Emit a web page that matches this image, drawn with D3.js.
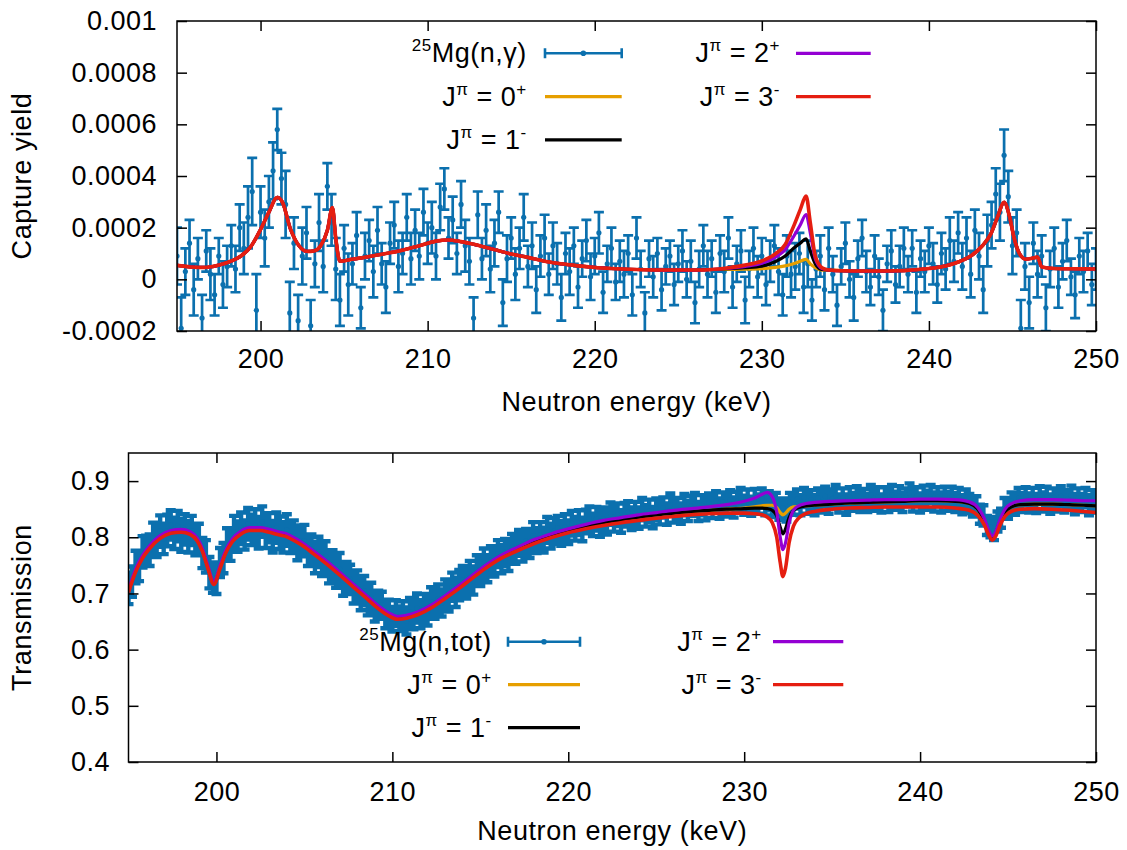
<!DOCTYPE html>
<html>
<head>
<meta charset="utf-8">
<title>25Mg capture yield and transmission</title>
<script src="https://d3js.org/d3.v7.min.js"></script>
<style>
    body { margin: 0; background: #ffffff; }
    text { font-family: 'Liberation Sans', Arial, Helvetica, sans-serif; fill: #000; white-space: pre; }
</style>
</head>
<body>
<svg id="chart" width="1127" height="850"></svg>
<script>
// ---------- shared ----------
const xTicks = [200, 210, 220, 230, 240, 250];
const jLabels = ["0+", "1-", "2+", "3-"];
const jColors = ["#e69f00", "#000000", "#9400d3", "#e51e10"];
const dataColor = "#0b70ae";

// ---------- capture yield (top), values in units of 1e-4 ----------
const capTicks = [-0.0002, 0, 0.0002, 0.0004, 0.0006, 0.0008, 0.001];
const capTickLabels = ["-0.0002", "0", "0.0002", "0.0004", "0.0006", "0.0008", "0.001"];
const capStart = 195, capStep = 0.25;
const capYield = [
    0.9,-1.9,0.3,1.4,-0.4,0.8,-1.5,1.1,0.2,-0.6,
    0.9,-0.2,0.5,1.3,0.4,2.0,1.2,2.4,3.4,-1.2,
    2.6,1.6,3.0,4.2,5.8,3.9,2.9,-1.3,1.4,-1.6,
    0.9,1.8,-1.8,0.6,2.2,0.5,3.6,2.3,0.4,-0.8,
    1.2,-0.2,0.6,1.7,-1.1,0.9,1.5,0.3,1.9,0.6,
    -0.3,1.4,2.1,0.5,1.0,2.4,0.8,1.9,0.9,2.6,
    1.4,2.0,0.9,2.8,3.5,1.6,2.3,1.0,2.9,1.3,
    0.7,-1.5,2.5,0.8,1.9,0.4,1.4,2.6,-0.9,0.8,
    1.6,0.2,1.2,2.4,0.5,1.3,-0.4,0.9,1.6,0.2,
    1.3,0.6,-0.7,1.0,0.3,1.3,-0.3,0.8,1.5,0.1,
    0.9,1.8,-0.5,0.6,1.2,-0.1,0.7,0.2,1.0,-0.6,
    1.6,0.4,-1.3,0.8,0.1,1.0,-0.4,0.5,0.9,-0.2,
    0.6,1.1,0.0,0.7,-0.9,0.4,1.3,0.2,0.8,-0.5,
    1.0,0.3,1.6,-0.3,0.6,1.1,-0.8,0.4,1.2,0.1,
    0.9,-0.2,0.7,1.3,0.3,-0.6,0.9,0.2,0.5,1.0,
    -0.3,0.6,-0.8,0.4,0.9,-0.4,1.2,0.2,-1.0,0.5,
    1.4,0.0,-0.7,0.8,1.6,0.3,-0.3,0.9,0.1,-1.2,
    0.6,1.1,-0.2,0.5,1.2,0.2,1.2,-0.5,0.8,0.3,
    1.3,0.6,-0.2,1.0,0.4,1.5,0.7,1.8,0.5,1.6,
    0.2,1.9,0.9,-0.4,1.5,2.1,3.3,2.6,4.8,3.2,
    1.3,1.8,-1.9,0.5,-0.9,1.4,0.2,0.9,-1.1,0.4,
    1.2,-0.3,0.7,1.5,0.1,-0.6,0.9,0.3,1.1,-0.2,0.4
];
const capErr = [
    1.1,1.2,0.9,0.9,1.0,0.8,0.9,0.8,1.0,0.8,
    0.7,0.9,0.8,0.8,0.9,0.9,1.0,1.2,1.3,1.4,
    1.0,1.1,1.0,1.1,0.8,1.0,1.3,1.2,1.0,1.0,
    1.1,1.0,1.0,0.9,1.1,1.0,0.9,1.0,1.2,1.0,
    0.9,1.2,0.8,0.9,0.8,0.9,0.8,1.0,0.9,0.8,
    1.0,0.8,0.9,1.0,0.8,0.9,1.0,0.8,0.9,0.9,
    0.8,1.0,0.9,0.9,0.8,0.8,0.9,0.8,0.9,1.0,
    0.9,0.8,0.9,0.8,1.0,0.9,0.9,0.8,0.9,0.9,
    0.8,1.0,0.8,0.9,0.8,0.9,0.9,0.8,0.9,0.8,
    0.9,0.8,0.9,0.8,0.9,0.7,0.8,0.7,0.8,0.9,
    0.7,0.8,0.8,0.7,0.8,0.7,0.8,0.9,0.7,0.8,
    0.8,0.7,0.8,0.7,0.8,0.6,0.8,0.7,0.6,0.8,
    0.7,0.8,0.7,0.8,0.8,0.7,0.8,0.9,0.7,0.8,
    0.7,0.8,0.8,0.8,0.7,0.8,0.9,0.7,0.8,0.8,
    0.7,0.8,0.8,0.8,0.9,0.8,0.8,0.9,0.9,0.8,
    1.0,0.9,0.8,0.7,0.8,0.8,0.8,0.7,0.8,0.7,
    0.8,0.7,0.9,0.7,0.7,0.8,0.7,0.8,0.7,0.8,
    0.7,0.8,0.7,0.8,0.8,0.7,0.7,0.8,0.7,0.8,
    0.7,0.8,0.7,0.8,0.8,0.9,0.8,0.8,0.9,0.8,
    0.9,0.8,0.9,0.9,1.0,0.9,1.0,1.1,1.0,1.0,
    1.1,0.9,1.1,0.9,1.0,0.8,0.9,0.8,0.9,0.7,
    0.8,0.8,0.7,0.8,0.7,0.9,0.7,0.8,0.7,0.8,0.8
];
const capFitE = [195,195.8,196.7,197.5,198.3,198.8,199.4,200.0,200.5,201.0,
    201.3,201.8,202.3,202.8,203.2,203.6,204.0,204.3,204.5,204.75,
    205.5,206.5,207.5,208.5,209.5,210.5,211.2,212,213,214,
    215,216,217,218,219,220,221,222,223,224,
    225,226,227,228,229,230,230.8,231.4,231.9,232.3,
    232.65,232.9,233.2,233.6,234,235,236,237,238,239,
    240,241,241.8,242.5,243.2,243.7,244.1,244.5,244.8,245.1,
    245.4,245.8,246.2,246.5,246.75,247.5,248.5,250];
const capFit0p = [0.54,0.48,0.46,0.55,0.72,0.89,1.25,1.93,2.6,3.17,
    3.0,1.93,1.3,1.08,1.1,1.3,1.9,2.78,1.6,0.70,
    0.78,0.88,1.0,1.13,1.3,1.48,1.52,1.46,1.32,1.15,
    0.98,0.85,0.70,0.6,0.52,0.46,0.42,0.39,0.37,0.36,
    0.36,0.36,0.38,0.38,0.39,0.41,0.46,0.52,0.6,0.7,
    0.77,0.6,0.45,0.36,0.36,0.33,0.32,0.32,0.33,0.36,
    0.42,0.52,0.68,0.9,1.3,1.75,2.4,2.98,2.5,1.6,
    1.02,0.78,0.82,0.86,0.48,0.42,0.41,0.40];
const capFit1m = [0.54,0.48,0.46,0.55,0.72,0.89,1.25,1.93,2.6,3.17,
    3.0,1.93,1.3,1.08,1.1,1.3,1.9,2.78,1.6,0.70,
    0.78,0.88,1.0,1.13,1.3,1.48,1.52,1.46,1.32,1.15,
    0.98,0.85,0.70,0.6,0.52,0.46,0.42,0.39,0.37,0.36,
    0.36,0.36,0.38,0.41,0.45,0.51,0.68,0.9,1.2,1.4,
    1.57,1.1,0.6,0.38,0.36,0.33,0.32,0.32,0.33,0.36,
    0.42,0.52,0.68,0.9,1.3,1.75,2.4,2.98,2.5,1.6,
    1.02,0.78,0.82,0.86,0.48,0.42,0.41,0.40];
const capFit2p = [0.54,0.48,0.46,0.55,0.72,0.89,1.25,1.93,2.6,3.17,
    3.0,1.93,1.3,1.08,1.1,1.3,1.9,2.78,1.6,0.70,
    0.78,0.88,1.0,1.13,1.3,1.48,1.52,1.46,1.32,1.15,
    0.98,0.85,0.70,0.6,0.52,0.46,0.42,0.39,0.37,0.36,
    0.36,0.36,0.38,0.43,0.5,0.62,0.85,1.15,1.65,2.1,
    2.51,1.8,0.8,0.42,0.36,0.33,0.32,0.32,0.33,0.36,
    0.42,0.52,0.68,0.9,1.3,1.75,2.4,2.98,2.5,1.6,
    1.02,0.78,0.82,0.86,0.48,0.42,0.41,0.40];
const capFit3m = [0.54,0.48,0.46,0.55,0.72,0.89,1.25,1.93,2.6,3.17,
    3.0,1.93,1.3,1.08,1.1,1.3,1.9,2.78,1.6,0.70,
    0.78,0.88,1.0,1.13,1.3,1.48,1.52,1.46,1.32,1.15,
    0.98,0.85,0.70,0.6,0.52,0.46,0.42,0.39,0.37,0.36,
    0.36,0.36,0.38,0.45,0.55,0.71,0.98,1.35,2.05,2.7,
    3.22,2.2,0.9,0.45,0.36,0.33,0.32,0.32,0.33,0.36,
    0.42,0.52,0.68,0.9,1.3,1.75,2.4,2.98,2.5,1.6,
    1.02,0.78,0.82,0.86,0.48,0.42,0.41,0.40];

// ---------- transmission (bottom), values in units of 1e-3 ----------
const transTicks = [0.4, 0.5, 0.6, 0.7, 0.8, 0.9];
const transTickLabels = ["0.4", "0.5", "0.6", "0.7", "0.8", "0.9"];
const transStart = 195, transStep = 0.2;
const transData = [
    709,721,747,749,774,777,777,799,794,811,
    797,812,822,807,820,803,814,801,812,795,
    796,772,766,737,728,727,755,763,788,785,
    809,801,816,804,824,813,821,808,828,809,
    817,801,817,808,800,813,798,803,787,794,
    794,776,779,764,774,760,766,746,751,737,
    744,723,728,725,709,713,697,705,689,692,
    674,680,680,662,666,654,665,655,663,651,
    667,660,674,663,675,668,685,679,691,683,
    699,695,712,702,715,724,717,731,723,742,
    738,754,744,759,756,771,761,773,765,782,
    777,790,781,793,786,803,794,804,795,813,
    802,811,817,807,818,809,825,815,826,814,
    828,833,822,833,823,833,826,842,831,840,
    828,840,845,833,842,834,850,838,847,835,
    850,843,853,841,858,844,851,842,858,847,
    856,860,846,857,849,861,852,865,851,863,
    855,867,853,864,870,857,867,855,868,859,
    870,857,865,854,862,849,852,846,862,858,
    868,857,871,860,867,857,870,862,873,860,
    868,875,860,870,858,872,863,874,863,869,
    861,876,865,872,860,872,863,876,865,874,
    862,871,879,864,873,861,874,866,877,863,
    872,862,874,864,872,862,872,858,867,860,
    854,855,841,839,821,818,812,828,834,852,
    850,864,857,870,862,873,861,870,860,875,
    863,872,859,871,863,873,861,868,875,859,
    870,861,871,857,867,861
];
const transErr = [
    28,27,29,27,28,26,28,27,29,28,
    27,28,26,28,27,29,27,28,26,27,
    28,27,29,28,27,28,26,27,28,27,
    29,27,28,26,28,27,29,28,27,28,
    26,28,27,29,27,28,26,27,28,27,
    28,27,26,28,27,29,27,28,26,27,
    28,27,28,26,27,28,27,26,28,27,
    24,25,23,24,23,22,23,22,23,24,
    25,24,26,25,24,25,26,24,25,24,
    26,27,25,26,27,25,26,27,25,26,
    25,26,24,25,26,24,25,24,25,24,
    24,23,24,22,23,24,22,23,22,23,
    22,23,21,22,23,21,22,21,22,21,
    21,22,20,21,22,20,21,20,21,20,
    20,21,19,20,21,19,20,19,20,19,
    19,20,18,19,20,18,19,18,19,18,
    18,19,17,18,19,17,18,17,18,17,
    18,17,18,17,18,17,18,17,18,17,
    17,18,17,18,17,18,17,18,17,18,
    17,18,17,18,17,18,17,18,17,18,
    17,18,16,17,18,17,16,17,18,17,
    16,17,18,17,16,17,18,17,16,17,
    17,16,17,18,16,17,18,17,16,17,
    17,18,16,17,18,17,16,17,18,17,
    17,18,17,18,17,18,17,18,17,18,
    17,16,17,18,17,16,17,18,17,16,
    17,18,17,16,17,18,17,16,17,18,
    17,16,17,18,17,17
];
const transFitE = [195,195.4,195.8,196.2,196.8,197.4,198.0,198.5,198.9,199.2,
    199.5,199.85,200.2,200.5,200.9,201.4,201.9,202.5,203.0,203.6,
    203.9,204.3,204.8,205.5,206.2,207.0,207.8,208.5,209.2,209.8,
    210.3,210.8,211.5,212.3,213.0,213.8,214.5,215.3,216.2,217.1,
    218,219,220,221,222,223,224,225,226,227,
    228,229,230,230.6,231.0,231.3,231.6,231.85,232.05,232.2,
    232.35,232.55,232.8,233.1,233.5,234,235,236,237,238,
    239,240,241,242,242.8,243.3,243.65,243.9,244.1,244.3,
    244.55,244.85,245.2,245.7,246.5,247.5,248.5,249.3,250];
const transFit0p = [704,740,765,782,800,809,811,807,796,777,
    748,718,746,772,794,808,814,814,811,806,
    804,798,789,773,756,735,713,694,675,662,
    656,658,665,678,693,711,728,747,765,779,
    792,803,812,819,826,831,836,840,843,846,
    848,850,852,854,856,857,857,853,844,840,
    843,850,854,855,856,857,859,861,862,863,
    864,865,865,864,860,849,830,810,800,808,
    829,846,854,858,859,859,858,857,856];
const transFit1m = [704,740,765,782,800,809,811,807,796,777,
    748,718,746,772,794,808,814,814,811,806,
    804,798,789,773,756,735,713,694,675,662,
    656,658,665,678,693,711,728,747,765,779,
    792,803,812,819,826,831,836,840,843,846,
    848,850,851,852,852,851,848,838,818,806,
    815,835,848,853,856,857,859,861,862,863,
    864,865,865,864,860,849,830,810,800,808,
    829,846,854,858,859,859,858,857,856];
const transFit2p = [707,743,768,785,803,812,814,810,799,780,
    751,721,749,775,797,811,817,817,814,809,
    807,801,792,776,759,738,716,697,678,665,
    659,661,668,681,696,714,731,750,768,782,
    795,806,815,823,830,835,840,844,848,851,
    854,858,864,870,876,880,872,845,800,778,
    790,825,848,856,860,862,864,865,866,867,
    867,868,868,867,863,852,833,812,802,810,
    832,851,860,865,867,867,866,865,865];
const transFit3m = [702,738,763,780,798,807,809,805,794,775,
    746,716,744,770,792,806,812,812,809,804,
    802,796,787,771,754,733,711,692,673,660,
    654,656,663,676,691,709,726,745,763,776,
    788,799,808,815,821,826,830,834,837,840,
    842,843,843,842,840,836,826,800,755,730,
    745,790,820,834,842,846,850,852,853,854,
    854,854,854,852,848,838,822,804,795,802,
    822,838,846,850,851,850,848,846,844];

// ---------- drawing ----------
const svg = d3.select("#chart");
const FONT = 27;

function richText(sel, parts) {
    let shift = 0;
    parts.forEach(function(p) {
        const target = p.sup ? -11 : 0;
        const t = sel.append("tspan").text(p.t).attr("dy", target - shift);
        if (p.sup) t.attr("font-size", 17);
        shift = target;
    });
}

function jParts(j) {
    return [{t: "J"}, {t: "π", sup: true}, {t: " = " + j[0]}, {t: j[1], sup: true}];
}

function drawPanel(p) {
    const x = d3.scaleLinear().domain([195, 250]).range([p.left, p.right]);
    const y = d3.scaleLinear().domain(p.yDomain).range([p.bottom, p.top]);
    const g = svg.append("g");

    g.append("clipPath").attr("id", p.id + "-clip")
        .append("rect")
        .attr("x", p.left).attr("y", p.top)
        .attr("width", p.right - p.left).attr("height", p.bottom - p.top);
    const plot = g.append("g").attr("clip-path", "url(#" + p.id + "-clip)");

    // data with error bars
    const pts = p.values.map((v, i) => ({e: p.start + i * p.step, v: v * p.scale, err: p.errs[i] * p.scale}));
    const c = p.cap;
    plot.append("path")
        .attr("fill", "none")
        .attr("stroke", dataColor)
        .attr("stroke-width", p.barWidth)
        .attr("d", pts.map(d => {
            const X = x(d.e), y1 = y(d.v - d.err), y2 = y(d.v + d.err);
            return `M${X},${y1}V${y2}M${X - c},${y1}H${X + c}M${X - c},${y2}H${X + c}`;
        }).join(""));
    plot.selectAll("circle.pt").data(pts).join("circle")
        .attr("class", "pt")
        .attr("cx", d => x(d.e)).attr("cy", d => y(d.v))
        .attr("r", 2.6).attr("fill", dataColor);

    // fit curves
    const line = d3.line().curve(d3.curveMonotoneX);
    p.fits.forEach(function(f, k) {
        plot.append("path")
            .attr("fill", "none")
            .attr("stroke", jColors[k])
            .attr("stroke-width", k === 3 ? 3.6 : 3.2)
            .attr("stroke-linejoin", "round")
            .attr("d", line(p.fitE.map((e, i) => [x(e), y(f[i] * p.scale)])));
    });

    // axes with inward ticks on all four sides
    const styleAxis = a => a.attr("font-size", FONT)
        .attr("font-family", "'Liberation Sans', Arial, Helvetica, sans-serif")
        .call(s => s.select(".domain").remove())
        .call(s => s.selectAll("line").attr("stroke-width", 1.5))
        .call(s => s.selectAll("text").attr("letter-spacing", 0.5));

    g.append("g").attr("transform", `translate(0,${p.bottom})`)
        .call(d3.axisBottom(x).tickValues(xTicks).tickSize(-10).tickPadding(p.xPad).tickFormat(d3.format("d")))
        .call(styleAxis);
    g.append("g").attr("transform", `translate(0,${p.top})`)
        .call(d3.axisTop(x).tickValues(xTicks).tickSize(-10).tickFormat(""))
        .call(styleAxis);
    g.append("g").attr("transform", `translate(${p.left},0)`)
        .call(d3.axisLeft(y).tickValues(p.yTicks).tickSize(-10).tickPadding(p.yPad)
            .tickFormat((d, i) => p.yLabels[i]))
        .call(styleAxis);
    g.append("g").attr("transform", `translate(${p.right},0)`)
        .call(d3.axisRight(y).tickValues(p.yTicks).tickSize(-10).tickFormat(""))
        .call(styleAxis);

    g.append("rect")
        .attr("x", p.left).attr("y", p.top)
        .attr("width", p.right - p.left).attr("height", p.bottom - p.top)
        .attr("fill", "none").attr("stroke", "#000").attr("stroke-width", 1.5);

    // axis titles
    g.append("text")
        .attr("x", (p.left + p.right) / 2).attr("y", p.xTitleY)
        .attr("text-anchor", "middle").attr("font-size", FONT).attr("letter-spacing", 0.6)
        .text("Neutron energy (keV)");
    g.append("text")
        .attr("transform", `translate(31,${(p.top + p.bottom) / 2}) rotate(-90)`)
        .attr("text-anchor", "middle").attr("font-size", FONT).attr("letter-spacing", 0.6)
        .text(p.yTitle);

    // legend
    const L = p.legend;
    const entries = [
        {parts: [{t: "25", sup: true}, {t: p.reaction}], col: 0, row: 0, data: true},
        {parts: jParts(jLabels[0]), col: 0, row: 1, k: 0},
        {parts: jParts(jLabels[1]), col: 0, row: 2, k: 1},
        {parts: jParts(jLabels[2]), col: 1, row: 0, k: 2},
        {parts: jParts(jLabels[3]), col: 1, row: 1, k: 3}
    ];
    const lg = g.append("g");
    entries.forEach(function(en) {
        const ry = L.y0 + en.row * L.dy;
        const [s0, s1] = L.sample[en.col];
        const t = lg.append("text")
            .attr("x", L.textRight[en.col]).attr("y", ry + 9)
            .attr("text-anchor", "end").attr("font-size", FONT).attr("letter-spacing", 0.5);
        richText(t, en.parts);
        if (en.data) {
            lg.append("path")
                .attr("fill", "none").attr("stroke", dataColor).attr("stroke-width", 2.6)
                .attr("d", `M${s0},${ry}H${s1}M${s0},${ry - 5}V${ry + 5}M${s1},${ry - 5}V${ry + 5}`);
            lg.append("circle").attr("cx", (s0 + s1) / 2).attr("cy", ry).attr("r", 2.8).attr("fill", dataColor);
        } else {
            lg.append("line")
                .attr("x1", s0).attr("x2", s1).attr("y1", ry).attr("y2", ry)
                .attr("stroke", jColors[en.k]).attr("stroke-width", 3.2);
        }
    });
}

drawPanel({
    id: "cap", left: 177, right: 1096, top: 21, bottom: 331,
    yDomain: [-0.0002, 0.001], yTicks: capTicks, yLabels: capTickLabels,
    start: capStart, step: capStep, values: capYield, errs: capErr, scale: 1e-4,
    cap: 5, barWidth: 2.7,
    fitE: capFitE, fits: [capFit0p, capFit1m, capFit2p, capFit3m],
    xPad: 18, yPad: 20, xTitleY: 411, yTitle: "Capture yield",
    reaction: "Mg(n,γ)",
    legend: {y0: 53.3, dy: 43.3, textRight: [526.7, 780], sample: [[545, 621.7], [796, 870.7]]}
});

drawPanel({
    id: "trans", left: 128.5, right: 1096, top: 453, bottom: 762,
    yDomain: [0.4, 0.95], yTicks: transTicks, yLabels: transTickLabels,
    start: transStart, step: transStep, values: transData, errs: transErr, scale: 1e-3,
    cap: 5, barWidth: 4.4,
    fitE: transFitE, fits: [transFit0p, transFit1m, transFit2p, transFit3m],
    xPad: 20, yPad: 18.5, xTitleY: 840, yTitle: "Transmission",
    reaction: "Mg(n,tot)",
    legend: {y0: 641.7, dy: 43, textRight: [491.7, 761.7], sample: [[508, 580], [773, 843.3]]}
});
</script>
</body>
</html>
